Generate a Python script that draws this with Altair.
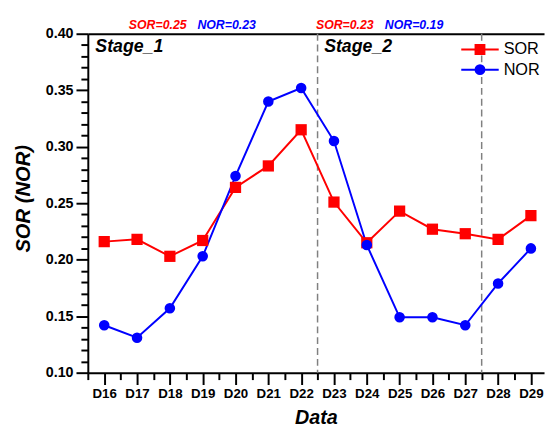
import altair as alt
import pandas as pd

# ---- data ----
days = [16, 17, 18, 19, 20, 21, 22, 23, 24, 25, 26, 27, 28, 29]
sor = [0.216, 0.218, 0.203, 0.217, 0.264, 0.283, 0.315, 0.251, 0.215, 0.243, 0.227, 0.223, 0.218, 0.239]
nor = [0.142, 0.131, 0.157, 0.203, 0.274, 0.340, 0.352, 0.305, 0.213, 0.149, 0.149, 0.142, 0.179, 0.210]
series_names = ["SOR", "NOR"]
series_colors = ["#ff0000", "#0000ff"]

stage_bounds = [22.5, 27.5]
stage_names = ["Stage_1", "Stage_2"]
stage_x = [15.73, 22.70]

annot_text = ["SOR=0.25", "NOR=0.23", "SOR=0.23", "NOR=0.19"]
annot_series = ["SOR", "NOR", "SOR", "NOR"]
annot_x = [17.63, 19.73, 23.33, 25.44]

# tick positions: every category plus the half-way minor ticks; y every 0.01
x_ticks = sorted(days + [d - 0.5 for d in days])
y_ticks = [round(0.10 + 0.01 * i, 2) for i in range(31)]

# ---- tables ----
df = pd.DataFrame({
    "day": days * 2,
    "value": sor + nor,
    "series": ["SOR"] * len(days) + ["NOR"] * len(days),
})
bounds_df = pd.DataFrame({"b": stage_bounds})
stage_df = pd.DataFrame({"name": stage_names, "x": stage_x})
annot_df = pd.DataFrame({"text": annot_text, "series": annot_series, "x": annot_x})

FONT = "Liberation Sans"
xs = alt.Scale(domain=[15.5, 29.4], nice=False, zero=False)
ys = alt.Scale(domain=[0.10, 0.40], nice=False, zero=False)
cs = alt.Scale(domain=series_names, range=series_colors)

# legend symbols: line through a (filled-looking) marker
sq = "".join(f"M{-h},{-h}H{h}V{h}H{-h}Z" for h in (0.45, 0.3, 0.15))
ci = "".join(f"M{-r},0A{r},{r} 0 1,0 {r},0A{r},{r} 0 1,0 {-r},0Z" for r in (0.45, 0.3, 0.15))
path_sor = "M-1.9,0H1.9" + sq
path_nor = "M-1.9,0H1.9" + ci

X_MAJOR = "datum.value % 1 == 0"
Y_MAJOR = "round(datum.value * 100) % 5 == 0"

x_axis = alt.Axis(
    values=x_ticks,
    labelExpr=f"{X_MAJOR} ? 'D' + datum.value : ''",
    title="Data",
    labelFont=FONT, labelFontSize=13.5, labelFontWeight="bold", labelColor="black",
    labelPadding=2, labelFlush=False, labelOverlap=False,
    tickSize={"condition": {"test": X_MAJOR, "value": 12}, "value": 7},
    tickWidth=2, tickColor="black",
    domainWidth=2, domainColor="black",
    titleFont=FONT, titleFontSize=20, titleFontWeight="bold", titleFontStyle="italic",
    titleColor="black", titleBaseline="alphabetic", titleY=51.5, grid=False,
)
x_top_axis = alt.Axis(orient="top", labels=False, ticks=False, title=None,
                      domainWidth=2, domainColor="black", grid=False)
y_axis = alt.Axis(
    values=y_ticks,
    labelExpr=f"{Y_MAJOR} ? format(datum.value, '.2f') : ''",
    title="SOR (NOR)",
    labelFont=FONT, labelFontSize=14.5, labelFontWeight="bold", labelColor="black",
    labelPadding=3, labelFlush=False, labelOverlap=False,
    tickSize={"condition": {"test": Y_MAJOR, "value": 12}, "value": 7},
    tickWidth=2, tickColor="black",
    domainWidth=2, domainColor="black",
    titleFont=FONT, titleFontSize=20.5, titleFontWeight="bold", titleFontStyle="italic",
    titleColor="black", titleAngle=270, titleAlign="center", titleBaseline="alphabetic",
    titleX=-59, titleY=167, grid=False,
)
Y = alt.Y("value:Q", scale=ys, axis=y_axis)

leg = alt.Legend(
    orient="none", legendX=387, legendY=5, padding=0, title=None,
    symbolSize=400, symbolStrokeWidth=2, symbolOpacity=1,
    labelFont=FONT, labelFontSize=16.5, labelColor="black", labelOffset=13,
    rowPadding=0.5,
)
# legend-only layer (first, so its legend settings win); marks pushed outside the clipped plot
legend_layer = alt.Chart(df).transform_calculate(off="0").mark_point(
    filled=False, strokeWidth=2, clip=True
).encode(
    x=alt.X("off:Q", scale=xs, axis=None),
    y=Y,
    color=alt.Color("series:N", scale=cs, legend=leg),
    shape=alt.Shape("series:N", scale=alt.Scale(domain=series_names, range=[path_sor, path_nor]), legend=leg),
)

rules = alt.Chart(bounds_df).mark_rule(
    color="#808080", strokeWidth=1.5, strokeDash=[7, 4]
).encode(x=alt.X("b:Q", scale=xs, axis=None))

lines = alt.Chart(df).mark_line(strokeWidth=2).encode(
    x=alt.X("day:Q", scale=xs, axis=x_axis),
    y=Y,
    color=alt.Color("series:N", scale=cs),
    detail="series:N",
)

squares = alt.Chart(df).transform_filter(alt.datum.series == "SOR").mark_square(
    size=130, opacity=1
).encode(
    x=alt.X("day:Q", scale=xs, axis=None),
    y=Y,
    color=alt.Color("series:N", scale=cs),
)

circles = alt.Chart(df).transform_filter(alt.datum.series == "NOR").mark_circle(
    size=115, opacity=1
).encode(
    x=alt.X("day:Q", scale=xs, axis=None),
    y=Y,
    color=alt.Color("series:N", scale=cs),
)

annots = alt.Chart(annot_df).mark_text(
    font=FONT, fontSize=12.5, fontWeight="bold", fontStyle="italic", baseline="middle", align="center"
).encode(
    x=alt.X("x:Q", scale=xs, axis=x_top_axis),
    y=alt.value(-8.5),
    text="text:N",
    color=alt.Color("series:N", scale=cs),
)

stages = alt.Chart(stage_df).mark_text(
    font=FONT, fontSize=18, fontWeight="bold", fontStyle="italic", baseline="alphabetic", align="left",
    color="black",
).encode(
    x=alt.X("x:Q", scale=xs, axis=None),
    y=alt.value(18.5),
    text="name:N",
)

chart = alt.layer(
    legend_layer, rules, lines, squares, circles, annots, stages
).resolve_axis(x="independent").properties(
    width=463, height=344,
    padding={"left": 81, "top": 23, "right": 2, "bottom": 52},
    autosize=alt.AutoSizeParams(type="none"),
    background="white",
).configure_view(stroke=None).configure_axis(grid=False)

chart.save("out.html", embed_options={"renderer": "svg", "actions": False})
